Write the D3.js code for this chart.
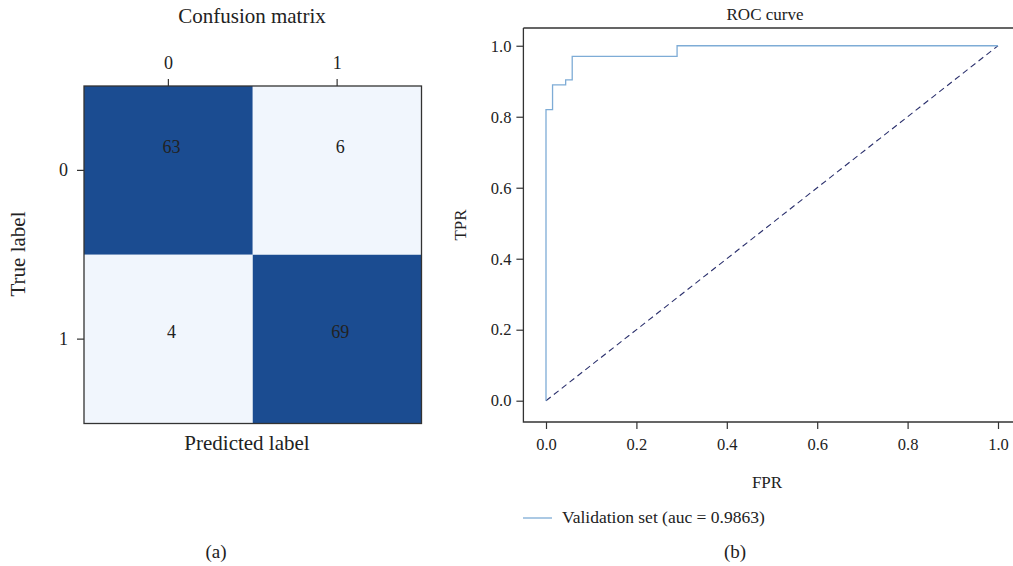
<!DOCTYPE html>
<html>
<head>
<meta charset="utf-8">
<script src="https://cdn.jsdelivr.net/npm/d3@7"></script>
<style>
body { margin: 0; background: #fff; }
text { font-family: "Liberation Serif", "DejaVu Serif", serif; fill: #222; }
</style>
</head>
<body>
<div id="image"></div>
<script>
// confusion matrix values
var classes = ["0", "1"];
var matrix = [[63, 6], [4, 69]];

// roc curve points
var fpr = [0, 0, 0.0145, 0.0145, 0.0435, 0.0435, 0.058, 0.058, 0.29, 0.29, 1.0];
var tpr = [0, 0.82, 0.82, 0.89, 0.89, 0.904, 0.904, 0.97, 0.97, 1.0, 1.0];
var rocTicks = [0, 0.2, 0.4, 0.6, 0.8, 1.0];
var aucLabel = "Validation set (auc = 0.9863)";

var svg = d3.select("#image").append("svg").attr("width", 1013).attr("height", 566);

// ---- confusion matrix ----
var cm = {left: 84, top: 86, size: 337.5};
var cx = d3.scaleBand().domain(classes).range([cm.left, cm.left + cm.size]);
var cy = d3.scaleBand().domain(classes).range([cm.top, cm.top + cm.size]);
var color = d3.scaleThreshold().domain([35]).range(["#f1f6fd", "#1b4c91"]);

var cells = [];
matrix.forEach(function(row, i) {
    row.forEach(function(v, j) { cells.push({r: classes[i], c: classes[j], v: v, i: i}); });
});

var g1 = svg.append("g");
g1.selectAll("rect.cell").data(cells).enter().append("rect")
    .attr("x", function(d) { return cx(d.c); })
    .attr("y", function(d) { return cy(d.r); })
    .attr("width", cx.bandwidth())
    .attr("height", cy.bandwidth())
    .attr("fill", function(d) { return color(d.v); });

g1.selectAll("text.val").data(cells).enter().append("text")
    .attr("x", function(d) { return cx(d.c) + cx.bandwidth() / 2 + 3; })
    .attr("y", function(d) { return cy(d.r) + cy.bandwidth() / 2 + (d.i == 0 ? -17 : -1); })
    .attr("text-anchor", "middle")
    .attr("font-size", 18)
    .attr("fill", "#1a1a1a")
    .text(function(d) { return d.v; });

g1.append("rect")
    .attr("x", cm.left).attr("y", cm.top)
    .attr("width", cm.size).attr("height", cm.size)
    .attr("fill", "none").attr("stroke", "#333").attr("stroke-width", 1.3);

var topAxis = g1.append("g").attr("transform", "translate(0," + cm.top + ")")
    .call(d3.axisTop(cx).tickSize(7).tickPadding(10));
var leftAxis = g1.append("g").attr("transform", "translate(" + cm.left + ",0)")
    .call(d3.axisLeft(cy).tickSize(7).tickPadding(9));
[topAxis, leftAxis].forEach(function(a) {
    a.select(".domain").remove();
    a.selectAll("line").attr("stroke", "#333").attr("stroke-width", 1.2);
    a.selectAll("text").attr("font-size", 18).attr("font-family", "Liberation Serif").attr("fill", "#222");
});

g1.append("text").attr("x", 252).attr("y", 23).attr("text-anchor", "middle")
    .attr("font-size", 21).text("Confusion matrix");
g1.append("text").attr("x", 247).attr("y", 450).attr("text-anchor", "middle")
    .attr("font-size", 21).text("Predicted label");
g1.append("text").attr("transform", "translate(25,254) rotate(-90)").attr("text-anchor", "middle")
    .attr("font-size", 21).text("True label");
g1.append("text").attr("x", 216).attr("y", 558).attr("text-anchor", "middle")
    .attr("font-size", 19).text("(a)");

// ---- roc curve ----
var x = d3.scaleLinear().domain([-0.05, 1.05]).range([523.4, 1020.6]);
var y = d3.scaleLinear().domain([-0.06, 1.05]).range([422, 28]);

var g2 = svg.append("g");
g2.append("path")
    .attr("d", "M" + x(-0.05) + "," + y(1.05) + "H" + x(1.05) + "M" + x(-0.05) + "," + y(1.05) +
               "V" + y(-0.06) + "H" + x(1.05))
    .attr("fill", "none").attr("stroke", "#333").attr("stroke-width", 1.3);

var bottomAxis = g2.append("g").attr("transform", "translate(0," + y(-0.06) + ")")
    .call(d3.axisBottom(x).tickValues(rocTicks).tickFormat(d3.format(".1f")).tickSize(7).tickPadding(9));
var yAxis = g2.append("g").attr("transform", "translate(" + x(-0.05) + ",0)")
    .call(d3.axisLeft(y).tickValues(rocTicks).tickFormat(d3.format(".1f")).tickSize(7).tickPadding(5));
[bottomAxis, yAxis].forEach(function(a) {
    a.select(".domain").remove();
    a.selectAll("line").attr("stroke", "#333").attr("stroke-width", 1.2);
    a.selectAll("text").attr("font-size", 16.5).attr("font-family", "Liberation Serif").attr("fill", "#222");
});

g2.append("line")
    .attr("x1", x(0)).attr("y1", y(0)).attr("x2", x(1)).attr("y2", y(1))
    .attr("stroke", "#2a2f6c").attr("stroke-width", 1.1).attr("stroke-dasharray", "6,4");

var line = d3.line().x(function(d) { return x(d[0]); }).y(function(d) { return y(d[1]); });
g2.append("path")
    .datum(d3.zip(fpr, tpr))
    .attr("d", line)
    .attr("fill", "none").attr("stroke", "#7eacd6").attr("stroke-width", 1.3);

g2.append("text").attr("x", 765).attr("y", 20).attr("text-anchor", "middle")
    .attr("font-size", 17).text("ROC curve");
g2.append("text").attr("x", 767).attr("y", 488).attr("text-anchor", "middle")
    .attr("font-size", 17).text("FPR");
g2.append("text").attr("transform", "translate(466,225) rotate(-90)").attr("text-anchor", "middle")
    .attr("font-size", 17).text("TPR");

g2.append("line").attr("x1", 523).attr("x2", 552).attr("y1", 518).attr("y2", 518)
    .attr("stroke", "#7eacd6").attr("stroke-width", 1.3);
g2.append("text").attr("x", 562).attr("y", 523).attr("font-size", 17.5).text(aucLabel);
g2.append("text").attr("x", 735).attr("y", 558).attr("text-anchor", "middle")
    .attr("font-size", 19).text("(b)");
</script>
</body>
</html>
